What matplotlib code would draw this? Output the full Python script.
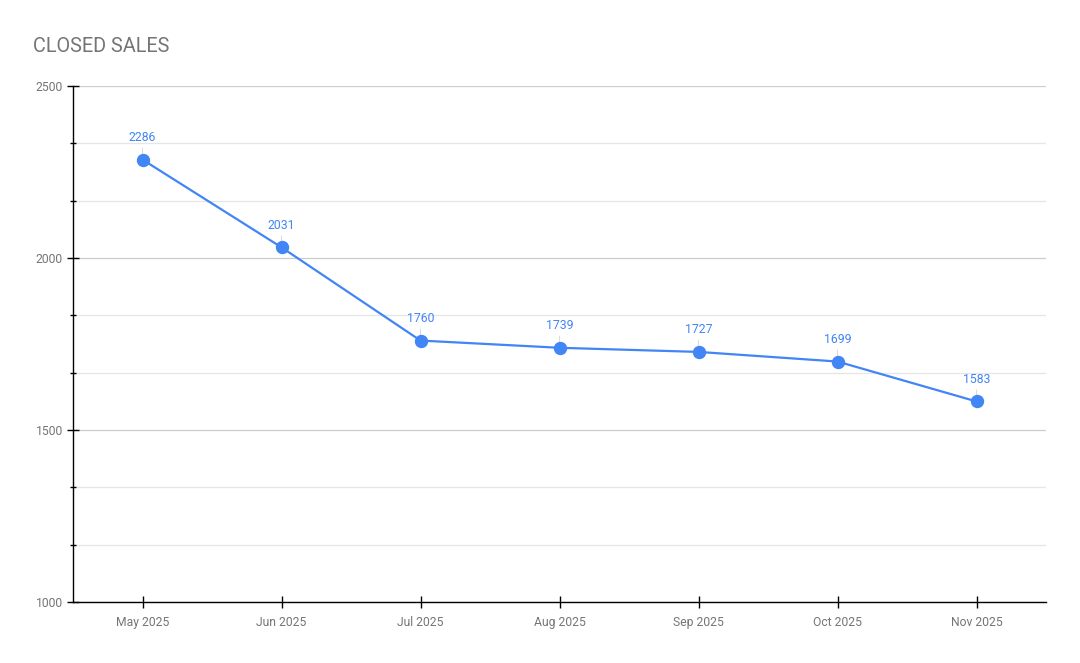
import matplotlib
matplotlib.use("Agg")
import matplotlib.pyplot as plt
from matplotlib.ticker import MultipleLocator

months = ["May 2025", "Jun 2025", "Jul 2025", "Aug 2025", "Sep 2025", "Oct 2025", "Nov 2025"]
closed_sales = [2286, 2031, 1760, 1739, 1727, 1699, 1583]
y_ticks = [1000, 1500, 2000, 2500]

plt.rcParams['font.family'] = ['Roboto', 'DejaVu Sans']

fig = plt.figure(figsize=(10.8, 6.63), dpi=100)
ax = fig.add_axes([73/1080, 61/663, 973/1080, 516/663])

blue = "#4285F4"
gray_text = "#757575"

x = list(range(len(months)))
ax.plot(x, closed_sales, color=blue, lw=1.6, marker="o", ms=8.6, zorder=4, clip_on=False)

for xi, v in zip(x, closed_sales):
    ax.annotate(str(v), (xi, v), xytext=(0, 16), textcoords="offset points",
                ha="center", va="center", color=blue, fontsize=8.8, zorder=3,
                arrowprops=dict(arrowstyle="-", color="#dcdcdc", lw=0.8,
                                shrinkA=1, shrinkB=0))

ax.set_xlim(-0.5, len(months) - 0.5)
ax.set_ylim(1000, 2500)
ax.set_xticks(x)
ax.set_xticklabels(months)
ax.set_yticks(y_ticks)
ax.set_yticklabels([str(t) for t in y_ticks])
ax.yaxis.set_minor_locator(MultipleLocator(500/3))

ax.grid(which="major", axis="y", color="#cccccc", lw=0.9)
ax.grid(which="minor", axis="y", color="#e6e6e6", lw=0.9)
ax.set_axisbelow(True)

for s in ["top", "right"]:
    ax.spines[s].set_visible(False)
ax.spines["left"].set_color("black")
ax.spines["bottom"].set_color("black")
ax.spines["left"].set_linewidth(1)
ax.spines["bottom"].set_linewidth(1)

ax.tick_params(axis="x", which="major", direction="inout", length=8.6, width=1, color="black",
               labelcolor=gray_text, labelsize=8.7, pad=6)
ax.tick_params(axis="y", which="major", direction="inout", length=8.6, width=1, color="black",
               labelcolor=gray_text, labelsize=8.7, pad=3)
ax.tick_params(axis="y", which="minor", direction="inout", length=4.3, width=1, color="black")

fig.text(33/1080, 1 - 46/663, "CLOSED SALES", color=gray_text, fontsize=14.3, va="center", ha="left")

fig.savefig("out.png", dpi=100, facecolor="white")
